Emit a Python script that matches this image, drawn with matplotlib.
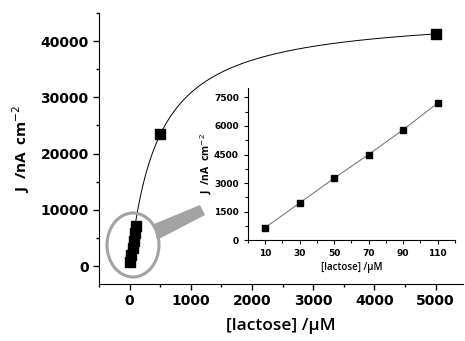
import matplotlib
matplotlib.use('Agg')
import matplotlib.pyplot as plt
from matplotlib.patches import Ellipse, Polygon
from matplotlib.ticker import MultipleLocator
import numpy as np

# calibration data
conc_low = [10, 30, 50, 70, 90, 110]
j_low = [650, 1950, 3250, 4500, 5800, 7200]
conc_high = [500, 5000]
j_high = [23400, 41300]

# Michaelis-Menten fit
jmax = 45100.0
km = 464.0

fig = plt.figure(figsize=(4.65, 3.41), dpi=100)
ax = fig.add_axes([0.213, 0.167, 0.783, 0.795])

c_all = conc_low + conc_high
j_all = j_low + j_high
cc = np.linspace(0, 5000, 400)
ax.plot(cc, jmax * cc / (km + cc), color='k', lw=0.7, zorder=2)
ax.plot(c_all, j_all, 's', color='black', ms=7, zorder=3)

ax.set_xlim(-500, 5450)
ax.set_ylim(-3200, 45000)
ax.xaxis.set_major_locator(MultipleLocator(1000))
ax.xaxis.set_minor_locator(MultipleLocator(500))
ax.yaxis.set_major_locator(MultipleLocator(10000))
ax.yaxis.set_minor_locator(MultipleLocator(5000))
for s in ['top', 'right']:
    ax.spines[s].set_visible(False)
ax.tick_params(which='major', length=4, width=1, labelsize=10)
ax.tick_params(which='minor', length=2.5, width=1)
for lab in ax.get_xticklabels() + ax.get_yticklabels():
    lab.set_fontweight('bold')
ax.set_xlabel('[lactose] /µM', fontsize=12.5, fontfamily='Open Sans',
              fontweight='semibold', labelpad=7)
ax.set_ylabel('J  /nA  cm$^{-2}$', fontsize=11, fontfamily='Open Sans',
              fontweight='bold', labelpad=6)

# magnifier glass (pixel coords, measured from top)
h = 341
ell = Ellipse((133, h - 245), 52, 64, transform=None, fill=False,
              edgecolor='#a3a3a3', lw=2.2, zorder=4)
fig.patches.append(ell)
handle = Polygon([(154, h - 224), (200, h - 205), (205, h - 215), (157, h - 240)],
                 closed=True, transform=None, facecolor='#a3a3a3',
                 edgecolor='none', zorder=1)
fig.patches.append(handle)

# inset
ins = fig.add_axes([0.533, 0.296, 0.445, 0.446])
ins.patch.set_alpha(0)
ins.plot(conc_low, j_low, '-', color='#7a7a7a', lw=0.8)
ins.plot(conc_low, j_low, 's', color='black', ms=4.5)
ins.set_xlim(0, 120)
ins.set_ylim(0, 8000)
ins.set_xticks([10, 30, 50, 70, 90, 110])
ins.xaxis.set_minor_locator(MultipleLocator(20))
ins.yaxis.set_major_locator(MultipleLocator(1500))
ins.yaxis.set_minor_locator(MultipleLocator(750))
for s in ['top', 'right']:
    ins.spines[s].set_visible(False)
ins.tick_params(which='major', length=3, width=0.8, labelsize=6.5)
ins.tick_params(which='minor', length=2, width=0.8)
for lab in ins.get_xticklabels() + ins.get_yticklabels():
    lab.set_fontweight('bold')
ins.set_xlabel('[lactose] /µM', fontsize=7, fontfamily='Open Sans',
               fontweight='semibold', labelpad=3)
ins.set_ylabel('J  /nA  cm$^{-2}$', fontsize=7.5, fontfamily='Open Sans',
               fontweight='bold', labelpad=0)

fig.savefig('out.png', dpi=100)
